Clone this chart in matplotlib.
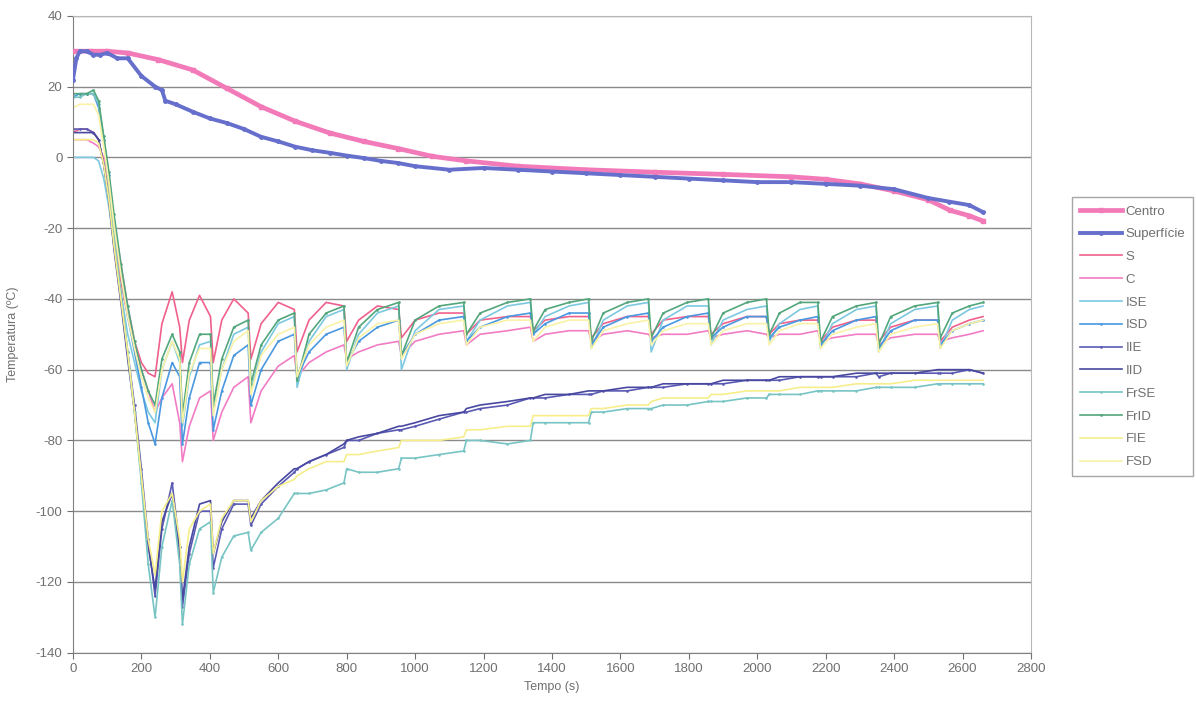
import matplotlib
matplotlib.use("Agg")
import matplotlib.pyplot as plt
import numpy as np

plt.rcParams['font.family'] = ['Liberation Sans Narrow', 'Liberation Sans', 'DejaVu Sans']
plt.rcParams['axes.unicode_minus'] = False

# smooth probes
t_centro = [0, 50, 100, 160, 250, 350, 450, 550, 650, 750, 850, 950, 1050, 1150, 1300,
            1500, 1700, 1900, 2100, 2200, 2300, 2400, 2500, 2564, 2620, 2660]
centro = [30, 30, 30, 29.5, 27.6, 24.7, 19.5, 14.3, 10.2, 6.9, 4.5, 2.5, 0.3, -1.0, -2.5,
          -3.5, -4.2, -4.8, -5.5, -6.2, -7.5, -9.5, -12, -15, -16.5, -18]

t_sup = [0, 10, 20, 40, 60, 80, 100, 130, 160, 200, 240, 260, 270, 300, 350, 400, 450, 500,
         550, 600, 650, 700, 750, 800, 850, 900, 950, 1000, 1100, 1200, 1300, 1400, 1500,
         1600, 1700, 1800, 1900, 2000, 2100, 2200, 2300, 2400, 2500, 2560, 2620, 2660]
superficie = [22, 28, 30, 30, 29, 29, 29.5, 28, 28, 23, 20, 19, 16, 15, 12.9, 11, 9.7, 8,
              5.8, 4.5, 3, 2, 1.3, 0.5, -0.2, -1, -1.6, -2.5, -3.5, -3, -3.5, -4, -4.5,
              -5, -5.5, -6, -6.5, -7, -7, -7.5, -8, -9, -11.5, -12.5, -13.5, -15.5]

# shared time grid for the probes inside the sample
t = [0, 20, 40, 60, 75, 90, 105, 120, 140, 160, 180, 200, 220,
     240, 260, 290, 312, 320, 340, 370, 402, 410, 435, 470, 512,
     520, 550, 600, 647, 655, 690, 740, 792, 800, 835, 890, 952,
     960, 1000, 1070, 1142, 1150, 1190, 1270, 1337, 1345, 1380, 1450, 1507,
     1515, 1550, 1620, 1682, 1690, 1725, 1795, 1857, 1865, 1900, 1970, 2027,
     2035, 2065, 2125, 2177, 2185, 2220, 2290, 2347, 2355, 2390, 2460, 2527,
     2535, 2570, 2620, 2660]

s = [7, 8, 8, 7, 5, -2, -10, -22, -35, -45, -52, -58, -61,
     -62, -47, -38, -48, -58, -46, -39, -45, -58, -46, -40, -44,
     -57, -47, -41, -43, -55, -46, -41, -42, -52, -46, -42, -43,
     -51, -46, -44, -44, -50, -46, -45, -45, -49, -46, -45, -45,
     -51, -47, -45, -45, -50, -46, -45, -45, -50, -47, -45, -45,
     -50, -47, -46, -46, -52, -48, -46, -46, -52, -48, -46, -46,
     -52, -48, -46, -45]
c = [5, 5, 5, 4, 3, 0, -8, -18, -30, -42, -52, -60, -66,
     -72, -68, -64, -75, -86, -76, -68, -66, -80, -72, -65, -62,
     -75, -66, -59, -56, -62, -58, -55, -53, -57, -55, -53, -52,
     -56, -52, -50, -49, -53, -50, -49, -48, -52, -50, -49, -49,
     -52, -50, -49, -50, -51, -50, -50, -49, -51, -50, -49, -50,
     -51, -50, -50, -49, -52, -51, -50, -50, -53, -51, -50, -50,
     -52, -51, -50, -49]
ise = [0, 0, 0, 0, -1, -6, -14, -25, -38, -50, -58, -66, -72,
       -75, -60, -52, -58, -76, -62, -53, -52, -72, -60, -50, -48,
       -66, -55, -47, -45, -65, -52, -45, -43, -60, -50, -44, -42,
       -60, -49, -43, -42, -52, -46, -42, -41, -50, -45, -42, -41,
       -54, -46, -42, -41, -55, -46, -42, -42, -53, -46, -43, -42,
       -52, -47, -43, -42, -54, -47, -43, -42, -55, -47, -43, -42,
       -54, -46, -43, -42]
isd = [17, 18, 18, 18, 14, 5, -5, -18, -32, -45, -55, -65, -75,
       -81, -68, -58, -62, -81, -68, -58, -58, -77, -66, -56, -53,
       -70, -60, -52, -50, -62, -55, -50, -48, -58, -52, -48, -46,
       -56, -50, -46, -45, -52, -48, -45, -44, -50, -47, -44, -44,
       -53, -48, -45, -44, -52, -48, -45, -44, -51, -48, -45, -45,
       -51, -48, -46, -45, -53, -49, -46, -45, -54, -49, -46, -46,
       -53, -49, -47, -46]
iie = [8, 8, 8, 7, 5, -2, -12, -25, -40, -55, -70, -88, -108,
       -124, -105, -92, -110, -127, -112, -100, -100, -116, -105, -98, -98,
       -104, -98, -93, -89, -88, -86, -84, -82, -80, -80, -78, -77,
       -77, -76, -74, -72, -72, -71, -70, -68, -68, -68, -67, -67,
       -67, -66, -66, -65, -65, -65, -64, -64, -64, -64, -63, -63,
       -63, -63, -62, -62, -62, -62, -62, -61, -62, -61, -61, -61,
       -61, -61, -60, -61]
iid = [7, 7, 7, 7, 5, -2, -12, -26, -41, -57, -72, -90, -110,
       -122, -103, -95, -112, -125, -110, -98, -97, -112, -103, -97, -97,
       -102, -97, -92, -88, -88, -86, -84, -81, -80, -79, -78, -76,
       -76, -75, -73, -72, -71, -70, -69, -68, -68, -67, -67, -66,
       -66, -66, -65, -65, -65, -64, -64, -64, -64, -63, -63, -63,
       -63, -62, -62, -62, -62, -62, -61, -61, -61, -61, -61, -60,
       -60, -60, -60, -61]
frse = [17, 17, 18, 18, 15, 5, -8, -22, -38, -55, -72, -92, -115,
        -130, -110, -97, -115, -132, -115, -105, -103, -123, -113, -107, -106,
        -111, -106, -102, -95, -95, -95, -94, -92, -88, -89, -89, -88,
        -85, -85, -84, -83, -80, -80, -81, -80, -75, -75, -75, -75,
        -72, -72, -71, -71, -71, -70, -70, -69, -69, -69, -68, -68,
        -67, -67, -67, -66, -66, -66, -66, -65, -65, -65, -65, -64,
        -64, -64, -64, -64]
frid = [18, 18, 18, 19, 16, 6, -4, -16, -30, -42, -52, -60, -66,
        -70, -57, -50, -55, -73, -58, -50, -50, -70, -57, -48, -46,
        -64, -53, -46, -44, -63, -50, -44, -42, -58, -48, -43, -41,
        -56, -46, -42, -41, -50, -44, -41, -40, -49, -43, -41, -40,
        -52, -44, -41, -40, -51, -44, -41, -40, -51, -44, -41, -40,
        -50, -44, -41, -41, -52, -45, -42, -41, -53, -45, -42, -41,
        -51, -44, -42, -41]
fie = [5, 5, 5, 5, 4, -2, -12, -25, -40, -55, -72, -90, -108,
       -118, -100, -95, -108, -120, -105, -100, -98, -112, -102, -97, -97,
       -103, -97, -93, -91, -90, -88, -86, -86, -84, -84, -83, -82,
       -80, -80, -80, -79, -77, -77, -76, -76, -73, -73, -73, -73,
       -71, -71, -70, -70, -69, -68, -68, -68, -67, -67, -66, -66,
       -66, -66, -65, -65, -65, -65, -64, -64, -64, -64, -63, -63,
       -63, -63, -63, -63]
fsd = [14, 15, 15, 15, 12, 3, -7, -19, -33, -45, -54, -62, -68,
       -72, -60, -52, -57, -75, -61, -54, -54, -73, -60, -52, -49,
       -67, -56, -50, -48, -62, -53, -48, -46, -59, -51, -47, -46,
       -57, -50, -47, -46, -53, -48, -46, -46, -52, -48, -46, -46,
       -54, -49, -47, -46, -53, -49, -47, -47, -53, -49, -47, -47,
       -53, -49, -47, -47, -54, -50, -48, -47, -55, -50, -48, -47,
       -54, -49, -47, -46]

probes = [
    ('S', s, '#F0608C', None),
    ('C', c, '#F27CC4', None),
    ('ISE', ise, '#7CC8E0', None),
    ('ISD', isd, '#4A98E0', '.'),
    ('IIE', iie, '#5A5AB4', '.'),
    ('IID', iid, '#4848A0', None),
    ('FrSE', frse, '#78C4C4', '.'),
    ('FrID', frid, '#52A67C', '.'),
    ('FIE', fie, '#F6EE8A', None),
    ('FSD', fsd, '#FAF2A6', None),
]


def temperature_chart():
    fig = plt.figure(figsize=(11.96, 7.10), dpi=100)
    ax = fig.add_axes([0.061, 0.0807, 0.801, 0.897])

    ax.plot(t_centro, centro, color='#F27AB8', lw=3.4, marker='s', ms=3,
            label='Centro', zorder=3)
    ax.plot(t_sup, superficie, color='#6670CC', lw=2.8, marker='o', ms=2.5,
            label='Superfície', zorder=3)
    for name, vals, col, mk in probes:
        ax.plot(t, vals, color=col, lw=1.2, marker=mk, ms=1.8, label=name, zorder=2)

    ax.set_xlim(0, 2800)
    ax.set_ylim(-140, 40)
    ax.set_xticks(np.arange(0, 2801, 200))
    ax.set_yticks(np.arange(-140, 41, 20))
    ax.grid(axis='y', color='#8a8a8a', lw=1.0)
    ax.set_axisbelow(True)
    for side in ['top', 'right']:
        ax.spines[side].set_color('#b8b8b8')
    for side in ['left', 'bottom']:
        ax.spines[side].set_color('#808080')
    ax.tick_params(colors='#707070', labelsize=9.5, length=4)

    ax.set_xlabel('Tempo (s)', color='#707070', fontsize=9)
    ax.set_ylabel('Temperatura (ºC)', color='#707070', fontsize=9, labelpad=12)

    leg = fig.legend(loc='upper left', bbox_to_anchor=(0.896, 0.722),
                     fontsize=9.5, frameon=True, fancybox=False,
                     edgecolor='#909090', handlelength=3.2, labelspacing=0.8,
                     borderpad=0.6, handletextpad=0.3, borderaxespad=0)
    for txt in leg.get_texts():
        txt.set_color('#707070')

    fig.savefig('out.png', dpi=100)


if __name__ == '__main__':
    temperature_chart()
